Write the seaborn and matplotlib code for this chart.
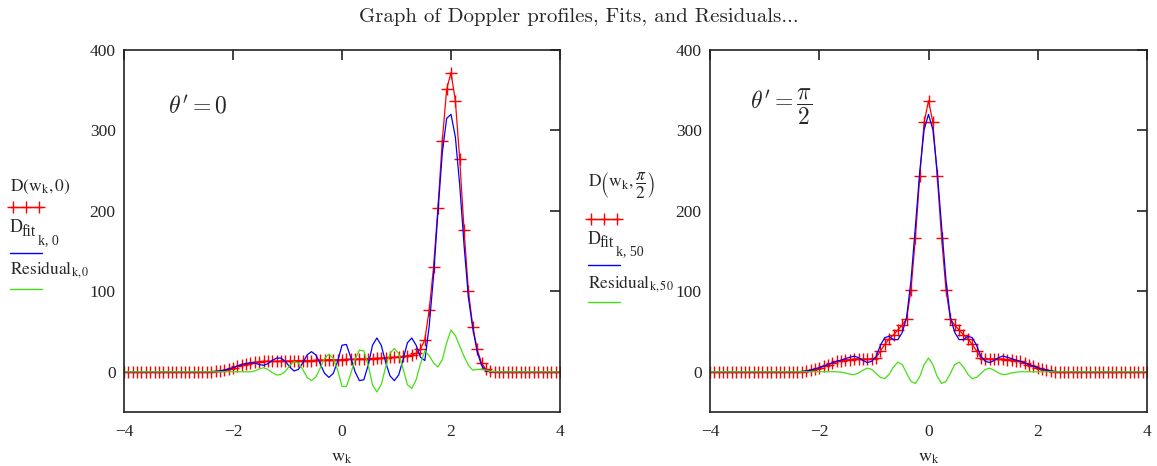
import numpy as np
import pandas as pd
import matplotlib
matplotlib.use('Agg')
import matplotlib.pyplot as plt
import seaborn as sns
from matplotlib.lines import Line2D

# sample grid of the profiles
w = np.round(np.linspace(-4, 4, 101), 2)

# theta' = 0 panel
d_theta0 = [0, 0, 0, 0, 0, 0, 0, 0, 0, 0, 0, 0, 0, 0, 0, 0, 0, 0, 0, 0, 0,
            0.5, 1, 2, 3.5, 5, 7, 9, 10, 11, 12, 12.5, 13, 13, 13, 13, 13.5, 13.5, 13.5, 13.5,
            14, 14, 14, 14, 14.5, 14.5, 14.5, 15, 15, 15, 15, 15.5, 15.5, 15.5, 16, 16,
            16.5, 16.5, 17, 17, 17.5, 18, 18, 18.5, 19, 20, 21, 23, 28, 40, 77, 130, 204,
            287, 351, 372, 337, 264, 176, 100, 56, 28, 11, 3, 0.5,
            0, 0, 0, 0, 0, 0, 0, 0, 0, 0, 0, 0, 0, 0, 0, 0]
fit_theta0 = [0, 0, 0, 0, 0, 0, 0, 0, 0, 0, 0, 0, 0, 0, 0, 0, 0, 0, 0, 0, 0,
              0.5, 1, 2, 3.5, 5, 7, 9, 10, 11, 11, 9, 8, 10, 14, 17, 17, 13, 6, 1,
              3, 11, 21, 25, 21, 10, -2, -7, -2, 13, 33, 34, 18, 0, -11, -10,
              8, 33, 42, 33, 12, -5, -11, -4, 15, 36, 42, 33, 18, 14, 57, 119, 198,
              272, 315, 320, 292, 232, 157, 92, 54, 25, 8, 1, 0,
              0, 0, 0, 0, 0, 0, 0, 0, 0, 0, 0, 0, 0, 0, 0, 0]
res_theta0 = [0, 0, 0, 0, 0, 0, 0, 0, 0, 0, 0, 0, 0, 0, 0, 0, 0, 0, 0, 0, 0,
              0, 0, 0, 0, 0, 0, 0, 0, 0, 1, 3.5, 5, 3, -1, -4, -3.5, 0.5, 7.5, 12.5,
              11, 3, -7, -11, -6.5, 4.5, 16.5, 22, 17, 2, -18, -18.5, -2.5, 15.5, 27, 26,
              8.5, -16.5, -25, -16, 5.5, 23, 29, 22.5, 4, -16, -21, -10, 10, 26, 20, 11, 6,
              15, 36, 52, 45, 32, 19, 8, 2, 3, 3, 2, 0.5,
              0, 0, 0, 0, 0, 0, 0, 0, 0, 0, 0, 0, 0, 0, 0, 0]

# theta' = pi/2 panel
d_theta90 = [0, 0, 0, 0, 0, 0, 0, 0, 0, 0, 0, 0, 0, 0, 0, 0, 0, 0, 0, 0, 0,
             0.3, 1, 2, 3.5, 5, 7, 9, 11, 13, 14, 15, 15, 16, 16, 16, 16, 16, 17, 26,
             34, 41, 46, 52, 58, 66, 102, 166, 243, 310, 337, 310, 243, 166, 102, 66,
             58, 52, 46, 41, 34, 26, 17, 16, 16, 16, 16, 16, 15, 15, 14, 13, 11, 9, 7,
             5, 3.5, 2, 1, 0.3,
             0, 0, 0, 0, 0, 0, 0, 0, 0, 0, 0, 0, 0, 0, 0, 0, 0, 0, 0, 0, 0]
fit_theta90 = [0, 0, 0, 0, 0, 0, 0, 0, 0, 0, 0, 0, 0, 0, 0, 0, 0, 0, 0, 0, 0,
               0.3, 1, 2, 3.5, 5, 7, 9, 11, 13, 14.5, 16.5, 18, 19.5, 17.5, 14, 11.5, 13, 19, 33,
               42.5, 44, 40, 40, 49, 68, 114, 180.5, 249, 301, 320, 301, 249, 180.5, 114, 68,
               49, 40, 40, 44, 42.5, 33, 19, 13, 11.5, 14, 17.5, 19.5, 18, 16.5, 14.5, 13, 11, 9, 7,
               5, 3.5, 2, 1, 0.3,
               0, 0, 0, 0, 0, 0, 0, 0, 0, 0, 0, 0, 0, 0, 0, 0, 0, 0, 0, 0, 0]
res_theta90 = [0, 0, 0, 0, 0, 0, 0, 0, 0, 0, 0, 0, 0, 0, 0, 0, 0, 0, 0, 0, 0,
               0, 0, 0, 0, 0, 0, 0, 0, 0, -0.5, -1.5, -3, -3.5, -1.5, 2, 4.5, 3, -2, -7,
               -8.5, -3, 6, 12, 9, -2, -12, -14.5, -6, 9, 17, 9, -6, -14.5, -12, -2,
               9, 12, 6, -3, -8.5, -7, -2, 3, 4.5, 2, -1.5, -3.5, -3, -1.5, -0.5, 0, 0, 0, 0,
               0, 0, 0, 0, 0,
               0, 0, 0, 0, 0, 0, 0, 0, 0, 0, 0, 0, 0, 0, 0, 0, 0, 0, 0, 0, 0]

x_ticks = [-4, -2, 0, 2, 4]
y_ticks = [0, 100, 200, 300, 400]

sns.set_style('white')
plt.rcParams['font.family'] = ['Liberation Serif', 'DejaVu Serif']
plt.rcParams['mathtext.fontset'] = 'stix'

W, H = 1157, 466
fig = plt.figure(figsize=(W / 100, H / 100), dpi=100)
ax1 = fig.add_axes([124 / W, 54 / H, 436 / W, 362 / H])
ax2 = fig.add_axes([710 / W, 54 / H, 437 / W, 362 / H])

RED, BLUE, GREEN = '#ff0000', '#0000ff', '#44e010'


def px(x, y):
    return x / W, 1 - y / H


def draw_panel(ax, d, fit, res):
    df = pd.DataFrame({'w': w, 'D': d, 'fit': fit, 'res': res})
    sns.lineplot(data=df, x='w', y='D', ax=ax, color=RED, lw=0.9, marker='+',
                 markersize=8, markeredgewidth=1.0, markeredgecolor=RED)
    sns.lineplot(data=df, x='w', y='fit', ax=ax, color=BLUE, lw=0.9)
    sns.lineplot(data=df, x='w', y='res', ax=ax, color=GREEN, lw=0.9)
    ax.set_xlim(-4, 4)
    ax.set_ylim(-50, 400)
    ax.set_xticks(x_ticks)
    ax.set_yticks(y_ticks)
    ax.set_xlabel(r'$\mathrm{w}_{\mathrm{k}}$', fontsize=13, labelpad=6)
    ax.set_ylabel('')
    ax.tick_params(direction='in', length=7, width=1.2, color='#222222',
                   top=True, right=True, labelsize=12.5)
    ax.tick_params(axis='x', pad=9)
    ax.tick_params(axis='y', pad=6)
    for s in ax.spines.values():
        s.set_color('#222222')
        s.set_linewidth(1.2)


draw_panel(ax1, d_theta0, fit_theta0, res_theta0)
draw_panel(ax2, d_theta90, fit_theta90, res_theta90)

fig.text(*px(168, 107), r"$\theta' = 0$", fontsize=17,
         math_fontfamily='cm', va='center', ha='left')
fig.text(*px(750, 107), r"$\theta' = \dfrac{\pi}{2}$", fontsize=17,
         math_fontfamily='cm', va='center', ha='left')

fig.text(0.5, 1 - 17 / H, 'Graph of Doppler profiles, Fits, and Residuals...',
         family='cmr10', fontsize=15, ha='center', va='center')


def sample(x0, ly, col):
    xs = [px(x0, ly)[0], px(x0 + 32, ly)[0]]
    ys = [px(x0, ly)[1]] * 2
    fig.add_artist(Line2D(xs, ys, color=col, lw=1.0, transform=fig.transFigure))
    if col == RED:
        mx = [px(x0 + 3, ly)[0], px(x0 + 16, ly)[0], px(x0 + 29, ly)[0]]
        fig.add_artist(Line2D(mx, [ys[0]] * 3, color=col, lw=0, marker='+',
                              markersize=8, markeredgewidth=1.0,
                              transform=fig.transFigure))


# MathCAD style legends on the left of each panel
panels = [
    (10, r'$\mathrm{D}\left(\mathrm{w}_{\mathrm{k}},0\right)$', 187, 207,
     'k,0', 232, 253, 270, 289),
    (588, r'$\mathrm{D}\left(\mathrm{w}_{\mathrm{k}},\dfrac{\pi}{2}\right)$', 185, 219,
     'k,50', 243, 265, 284, 302),
]
for x0, dlab, dy, dly, sub, fy, fly, ry, rly in panels:
    fig.text(*px(x0, dy), dlab, fontsize=12.5, ha='left', va='center')
    sample(x0, dly, RED)
    fig.text(*px(x0, fy - 4), 'D', fontsize=13, ha='left', va='center')
    fig.text(*px(x0 + 12, fy), 'fit', fontsize=11.5, ha='left', va='center')
    fig.text(*px(x0 + 28, fy + 9), sub.replace(',', ', '), fontsize=10,
             ha='left', va='center')
    sample(x0, fly, BLUE)
    fig.text(*px(x0, ry), r'$\mathrm{Residual}_{\mathrm{' + sub + '}}$',
             fontsize=12.5, ha='left', va='center')
    sample(x0, rly, GREEN)

fig.savefig('out.png', dpi=100)
